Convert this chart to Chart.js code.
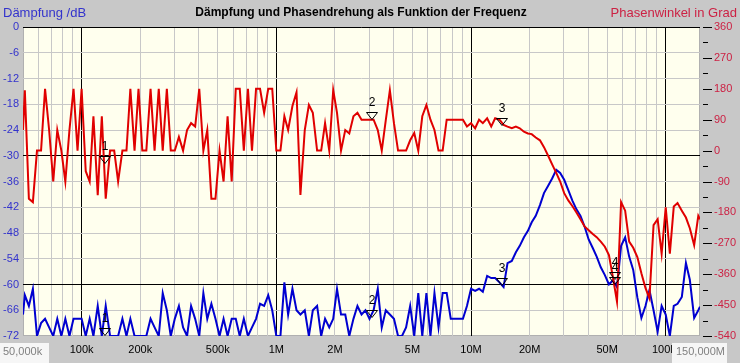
<!DOCTYPE html>
<html>
<head>
<meta charset="utf-8">
<script src="https://cdn.jsdelivr.net/npm/chart.js@4.4.1/dist/chart.umd.min.js"></script>
<style>
html, body { margin: 0; padding: 0; background: #c8c8c8; }
canvas { display: block; }
</style>
</head>
<body>
<canvas id="chart" width="740" height="363"></canvas>
<script>
// sweep frequencies in kHz
const freqKHz = [
    50, 51.1, 53.6, 56.2, 59, 61.9, 64.9, 68.1, 71.5, 75, 78.7, 82.5, 86.6, 90.9, 95.3,
    100, 105, 110, 115, 121, 127, 133, 140, 147, 154, 162, 170, 178, 187, 196, 205, 215, 226, 237, 249,
    261, 274, 287, 301, 316, 332, 348, 365, 383, 402, 422, 442, 464, 487, 511, 536, 562, 590, 619, 649,
    681, 715, 750, 787, 825, 866, 909, 953,
    1000, 1050, 1100, 1150, 1210, 1270, 1330, 1400, 1470, 1540, 1620, 1700, 1780, 1870, 1960, 2050, 2150, 2260,
    2370, 2490, 2610, 2740, 2870, 3010, 3160, 3320, 3480, 3650, 3830, 4020, 4220, 4420, 4640, 4870, 5110, 5360,
    5620, 5900, 6190, 6490, 6810, 7150, 7500, 7870, 8250, 8660, 9090, 9530,
    10000, 10500, 11000, 11500, 12100, 12700, 13300, 14000, 14700, 15400, 16200, 17000, 17800, 18700, 19600,
    20500, 21500, 22600, 23700, 24900, 26100, 27400, 28700, 30100, 31600, 33200, 34800, 36500, 38300, 40200,
    42200, 44200, 46400, 48700, 51100, 53600, 56200, 59000, 61900, 64900, 68100, 71500, 75000, 78700, 82500,
    86600, 90900, 95300,
    100000, 105000, 110000, 115000, 121000, 127000, 133000, 140000, 147000, 150000
];

// Phasenwinkel in Grad (rechte Achse)
const phaseDeg = [
    60, 176, -140, -150, 0, 0, 180, 60, -90, 60, 0, -90, 60, 180, 0,
    180, -60, -90, 100, -130, 100, -140, 0, 0, -90, 0, 0, 180, 0, 180, 0, 0, 180, 0, 180,
    0, 180, 0, 0, 40, 0, 60, 80, 70, 180, 0, 60, -140, -140, 0, -90, 100, -90, 180, 180,
    0, 180, 0, 180, 180, 110, 180, 180,
    0, 0, 100, 60, 130, 170, -129, 60, 133, 110, 0, 0, 80, 0, 176, 110, 0, 60, 50, 100,
    110, 90, 90, 90, 90, 60, 0, 89, 176, 80, 0, 0, 0, 30, 51, 0, 100, 133, 90, 60,
    0, 0, 90, 90, 90, 90, 90, 70,
    80, 65, 90, 80, 94, 70, 94, 90, 75, 70, 65, 70, 65, 55, 50, 48, 38, 30, 10, -15,
    -40, -65, -90, -124, -145, -162, -180, -200, -221, -232, -243, -252, -265, -280, -304, -370, -440, -150, -175, -265,
    -283, -310, -357, -400, -430, -217, -200, -300,
    -165, -300, -163, -153, -175, -195, -226, -275, -190, -200
];

// Dämpfung in dB (linke Achse)
const dampingDb = [
    -67, -62.5, -65, -61, -72, -69, -68, -70, -72, -68, -72, -68, -72, -68, -68,
    -68, -72, -68, -72, -65, -72, -65, -72, -72, -72, -68, -72, -68, -72, -72, -72, -72, -68, -70, -72,
    -62, -66, -72, -68, -65, -70, -72, -65, -68, -72, -62, -68, -64.5, -68, -72, -68, -72, -68, -68, -72,
    -68, -72, -70, -68, -64.5, -65, -62.5, -66,
    -72, -72, -59.5, -67, -61, -66, -67, -66, -72, -66, -65, -72, -68, -70, -68, -61, -67, -67, -72, -68,
    -65, -67, -66, -68, -66, -61, -70, -66, -67, -68, -72, -72, -70, -65, -72, -62, -72, -62, -72, -62,
    -70, -62, -62, -68, -68, -68, -68, -65,
    -61, -61.5, -61, -61.7, -58, -58.5, -58.5, -59.5, -60.6, -55, -54.5, -52.5, -51, -49, -47.5, -45.5, -44, -41.5, -38.7, -37,
    -35.3, -33.3, -34, -35.6, -38, -40.5, -42.5, -44, -46.5, -49.5, -51.5, -53.5, -56, -57.8, -60, -59, -60.6, -51, -49, -53.5,
    -56.6, -63, -67.8, -65, -61.3, -66, -71, -65,
    -67, -72, -65, -64.5, -62.9, -55, -58.9, -67.8, -66, -65.2
];

// Marker 1..4
const markerIds = ['1', '2', '3', '4'];
const markerFreq = [132, 3090, 14450, 54800];
const markerPhase = [-16, 112, 94, -353];
const markerDb = [-70.1, -65.9, -58.6, -58.2];

// x-Achse Beschriftung
const xTickValues = [100, 200, 500, 1000, 2000, 5000, 10000, 20000, 50000, 100000];
const xTickLabels = ['100k', '200k', '500k', '1M', '2M', '5M', '10M', '20M', '50M', '100M'];

const FONT = 'Arial, "Liberation Sans", sans-serif';
const RED = '#e00000';
const BLUE = '#0000d0';

const isDecade = v => [100, 1000, 10000, 100000].includes(v);

const background = {
    id: 'background',
    beforeDraw(chart) {
        const {ctx, chartArea: a} = chart;
        ctx.save();
        ctx.fillStyle = '#c8c8c8';
        ctx.fillRect(0, 0, chart.width, chart.height);
        ctx.fillStyle = '#ffffee';
        ctx.fillRect(a.left, a.top, a.right - a.left, a.bottom - a.top);
        ctx.strokeStyle = '#b0b0b0';
        ctx.lineWidth = 1;
        ctx.strokeRect(a.left + 0.5, a.top + 0.5, a.right - a.left - 1, a.bottom - a.top - 1);
        ctx.restore();
    }
};

const markers = {
    id: 'markers',
    afterDatasetsDraw(chart) {
        const {ctx, scales} = chart;
        ctx.save();
        ctx.strokeStyle = '#000';
        ctx.fillStyle = '#000';
        ctx.lineWidth = 1;
        ctx.font = '12px ' + FONT;
        ctx.textAlign = 'center';
        ctx.textBaseline = 'bottom';
        const draw = (px, py, id) => {
            ctx.beginPath();
            ctx.moveTo(px - 5.5, py + 0.5);
            ctx.lineTo(px + 5.5, py + 0.5);
            ctx.lineTo(px, py + 7.5);
            ctx.closePath();
            ctx.stroke();
            ctx.fillText(id, px, py - 3);
        };
        markerIds.forEach((id, i) => {
            const px = Math.round(scales.x.getPixelForValue(markerFreq[i]));
            draw(px, Math.round(scales.yR.getPixelForValue(markerPhase[i])), id);
            draw(px, Math.round(scales.y.getPixelForValue(markerDb[i])), id);
        });
        ctx.restore();
    }
};

const labels = {
    id: 'labels',
    afterDraw(chart) {
        const {ctx, chartArea: a, scales} = chart;
        ctx.save();
        // right axis tick marks
        ctx.strokeStyle = '#000';
        ctx.lineWidth = 1;
        for (let v = -540; v <= 360; v += 45) {
            const y = Math.round(scales.yR.getPixelForValue(v)) + 0.5;
            const len = v % 90 === 0 ? 9 : 5;
            ctx.beginPath();
            ctx.moveTo(a.right + 3, y);
            ctx.lineTo(a.right + 3 + len, y);
            ctx.stroke();
        }
        ctx.textBaseline = 'middle';
        ctx.font = 'bold 12px ' + FONT;
        ctx.fillStyle = '#000';
        ctx.textAlign = 'center';
        ctx.fillText('Dämpfung und Phasendrehung als Funktion der Frequenz', 361, 13);
        ctx.font = '13px ' + FONT;
        ctx.textAlign = 'left';
        ctx.fillStyle = '#3333cc';
        ctx.fillText('Dämpfung /dB', 3, 13);
        ctx.textAlign = 'right';
        ctx.fillStyle = '#cc2244';
        ctx.fillText('Phasenwinkel in Grad', 737, 13);
        // range boxes
        ctx.font = '11px ' + FONT;
        ctx.fillStyle = '#f6f6f6';
        ctx.fillRect(0, 343, 49, 20);
        ctx.fillRect(672, 343, 55, 20);
        ctx.fillStyle = '#808080';
        ctx.textAlign = 'left';
        ctx.fillText('50,000k', 3, 352);
        ctx.fillText('150,000M', 676, 352);
        ctx.restore();
    }
};

new Chart(document.getElementById('chart'), {
    type: 'line',
    data: {
        datasets: [{
            label: 'Phase',
            data: freqKHz.map((f, i) => ({x: f, y: phaseDeg[i]})),
            borderColor: RED,
            borderWidth: 2,
            pointRadius: 0,
            tension: 0,
            yAxisID: 'yR'
        }, {
            label: 'Dämpfung',
            data: freqKHz.map((f, i) => ({x: f, y: dampingDb[i]})),
            borderColor: BLUE,
            borderWidth: 2,
            pointRadius: 0,
            tension: 0,
            yAxisID: 'y'
        }]
    },
    options: {
        responsive: false,
        animation: false,
        layout: { padding: { top: 27 } },
        plugins: { legend: { display: false }, tooltip: { enabled: false } },
        scales: {
            x: {
                type: 'logarithmic',
                min: 50,
                max: 150000,
                afterFit: s => { s.height = 27; },
                afterBuildTicks: s => {
                    const t = [];
                    for (const d of [10, 100, 1000, 10000, 100000]) {
                        for (let m = 1; m <= 9; m++) {
                            const v = m * d;
                            if (v > 50 && v < 150000) t.push({value: v});
                        }
                    }
                    s.ticks = t;
                },
                grid: {
                    drawTicks: false,
                    color: c => (c.tick && isDecade(c.tick.value)) ? '#000' : '#c8c8c8'
                },
                border: { display: false },
                ticks: {
                    autoSkip: false,
                    maxRotation: 0,
                    padding: 7,
                    color: '#000',
                    font: { family: FONT, size: 11 },
                    callback: v => {
                        const i = xTickValues.indexOf(v);
                        return i >= 0 ? xTickLabels[i] : '';
                    }
                }
            },
            y: {
                position: 'left',
                min: -72,
                max: 0,
                afterFit: s => { s.width = 23; },
                grid: {
                    drawTicks: false,
                    color: c => (c.tick && c.tick.value % 30 === 0) ? '#000' : '#c8c8c8'
                },
                border: { display: false },
                ticks: {
                    stepSize: 6,
                    padding: 4,
                    color: '#3333cc',
                    font: { family: FONT, size: 11 }
                }
            },
            yR: {
                position: 'right',
                min: -540,
                max: 360,
                afterFit: s => { s.width = 40; },
                grid: { display: false, drawTicks: false },
                border: { display: false },
                ticks: {
                    stepSize: 90,
                    padding: 14,
                    color: '#cc2244',
                    font: { family: FONT, size: 11 }
                }
            }
        }
    },
    plugins: [background, markers, labels]
});
</script>
</body>
</html>
